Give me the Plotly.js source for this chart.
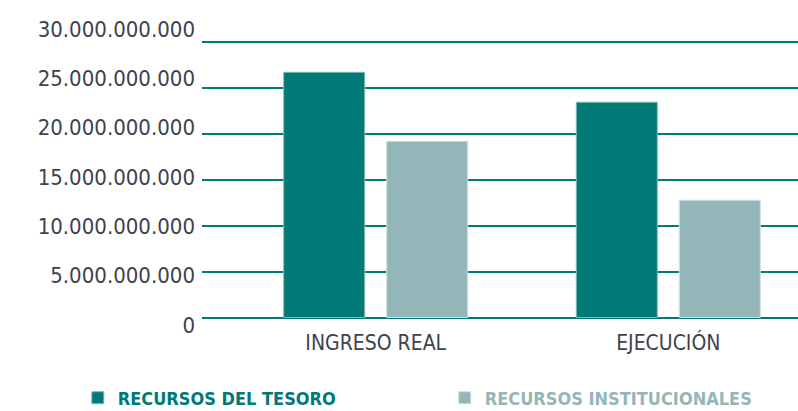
<!DOCTYPE html>
<html>
<head>
<meta charset="utf-8">
<script src="https://cdn.plot.ly/plotly-3.0.1.min.js"></script>
<style>html,body{margin:0;padding:0;background:#fff;}#chart{width:798px;height:411px;}</style>
</head>
<body>
<div id="chart"></div>
<script>
var categories = ['INGRESO REAL', 'EJECUCIÓN'];
var seriesNames = ['RECURSOS DEL TESORO', 'RECURSOS INSTITUCIONALES'];
var tesoro = [26700000000, 23440000000];
var institucionales = [19190000000, 12770000000];
var tickVals = [0, 5000000000, 10000000000, 15000000000, 20000000000, 25000000000, 30000000000];
var tickLabels = ['0', '5.000.000.000', '10.000.000.000', '15.000.000.000', '20.000.000.000', '25.000.000.000', '30.000.000.000'];

var FONT = '"DejaVu Sans Condensed", "Liberation Sans Narrow", "Arial Narrow", sans-serif';
var TEAL = '#007a76';
var GREY = '#95b6b8';

var traces = [
  {type:'bar', x:categories, y:tesoro, yaxis:'y2', legend:'legend',
   name:'<span style="color:'+TEAL+'"><b>'+seriesNames[0]+'</b></span>',
   marker:{color:TEAL, line:{color:'#7fb9b5', width:1}}, hoverinfo:'skip'},
  {type:'bar', x:categories, y:institucionales, yaxis:'y2', legend:'legend2',
   name:'<span style="color:'+GREY+'"><b>'+seriesNames[1]+'</b></span>',
   marker:{color:GREY, line:{color:'#cfe0e0', width:1}}, hoverinfo:'skip'},
  {type:'scatter', mode:'none', x:categories, y:tesoro, yaxis:'y', showlegend:false, hoverinfo:'skip'}
];

var layout = {
  width:798, height:411,
  margin:{l:202, r:0, t:29, b:86, pad:0},
  paper_bgcolor:'#fff', plot_bgcolor:'rgba(0,0,0,0)',
  barmode:'group', bargap:0.296, bargroupgap:0.2136,
  showlegend:true,
  xaxis:{type:'category', range:[-0.5936, 1.4433], showgrid:false, zeroline:false, showline:false, ticks:'',
         tickfont:{family:FONT, size:21, color:'#3d424c'}, ticklabelstandoff:3, fixedrange:true},
  yaxis:{domain:[0,1], range:[0, 30000000000], tickvals:tickVals, ticktext:tickLabels,
         showgrid:false, zeroline:false, showline:false, ticks:'', ticklabelstandoff:6,
         tickfont:{family:FONT, size:22, color:'#3d424c'}, fixedrange:true},
  yaxis2:{overlaying:'y', side:'left', range:[-816700000, 31416000000], tickvals:tickVals, showticklabels:false, ticks:'',
         showgrid:true, gridcolor:TEAL, gridwidth:2, zeroline:true, zerolinecolor:TEAL, zerolinewidth:2, showline:false, fixedrange:true},
  legend:{orientation:'h', xref:'container', yref:'container', x:0.0975, y:0.0316, xanchor:'left', yanchor:'middle',
          font:{family:FONT, size:18}, bgcolor:'rgba(0,0,0,0)'},
  legend2:{orientation:'h', xref:'container', yref:'container', x:0.5573, y:0.0316, xanchor:'left', yanchor:'middle',
          font:{family:FONT, size:18}, bgcolor:'rgba(0,0,0,0)'}
};

Plotly.newPlot('chart', traces, layout, {displayModeBar:false, staticPlot:true});
</script>
</body>
</html>
